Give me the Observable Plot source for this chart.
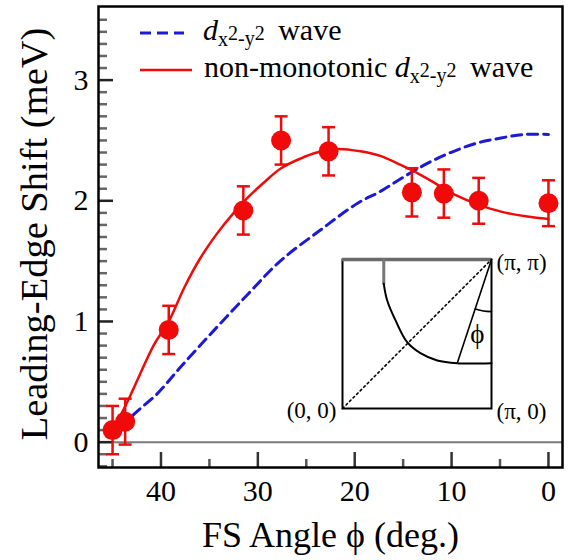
<!DOCTYPE html>
<html>
<head>
<meta charset="utf-8">
<script src="https://cdn.jsdelivr.net/npm/d3@7"></script>
<script src="https://cdn.jsdelivr.net/npm/@observablehq/plot@0.6"></script>
<style>
  body { margin: 0; background: white; }
  #chart { position: relative; width: 572px; height: 560px; }
  #inset { position: absolute; left: 280px; top: 245px; }
</style>
</head>
<body>
<div id="chart"><div id="inset"></div></div>
<script>
// Measured leading-edge shift along the Fermi surface
const phi   = [45.0, 43.7, 39.2, 31.5, 27.6, 22.7, 14.1, 10.8, 7.2, 0.0];
const shift = [0.10, 0.17, 0.93, 1.92, 2.50, 2.41, 2.07, 2.06, 2.00, 1.98];
const err   = [0.20, 0.19, 0.20, 0.20, 0.20, 0.20, 0.20, 0.20, 0.19, 0.19];

// Simple d(x2-y2) wave
const dPhi = [44.0, 42.8, 40.4, 38.0, 34.6, 31.1, 27.7, 23.5, 19.7, 17.3, 14.9, 12.5, 10.1, 7.3, 4.9, 2.5, 0.0];
const dVal = [0.12, 0.23, 0.40, 0.62, 0.92, 1.22, 1.50, 1.76, 1.98, 2.08, 2.20, 2.31, 2.40, 2.48, 2.52, 2.55, 2.55];

// Non-monotonic d(x2-y2) wave
const nmPhi = [44.6, 43.8, 42.8, 40.7, 39.2, 37.6, 35.9, 34.2, 32.6, 31.0, 29.4, 27.6, 25.6, 23.9, 21.8, 19.4, 17.3, 15.6, 14.0, 11.8, 9.4, 7.3, 4.9, 2.2, 0.0];
const nmVal = [0.16, 0.28, 0.45, 0.81, 1.00, 1.28, 1.53, 1.73, 1.89, 2.03, 2.15, 2.27, 2.35, 2.40, 2.43, 2.41, 2.37, 2.31, 2.25, 2.15, 2.04, 1.97, 1.91, 1.87, 1.85];

// Axis ticks
const xMajor = [0, 10, 20, 30, 40];
const xMinor = [5, 15, 25, 35, 45];
const yMajor = [0, 1, 2, 3];
const yMinor = d3.range(-2, 36).map(i => i / 10).filter(v => !yMajor.includes(v));

// Inset: Brillouin-zone quadrant (units of pi)
const fsKx = [0.277, 0.300, 0.356, 0.434, 0.523, 0.636, 0.770, 1.000];
const fsKy = [0.837, 0.725, 0.591, 0.445, 0.371, 0.322, 0.304, 0.304];
const fsTopKx = [0.277, 0.277];
const fsTopKy = [1.000, 0.837];
const diagK = [0, 1];
const phiLineKx = [1.0, 0.770];
const phiLineKy = [1.0, 0.304];
const phiArcKx = [0.891, 0.946, 1.0];
const phiArcKy = [0.668, 0.654, 0.650];
const cornerLabels = ["(0, 0)", "(\u03c0, 0)", "(\u03c0, \u03c0)"];

const RED = "#f00a0a";
const BLUE = "#1a1ad8";
const SERIF = "'Liberation Serif', 'Times New Roman', serif";
const PHI = "\u03d5";

const points = phi.map((p, i) => ({phi: p, v: shift[i], lo: shift[i] - err[i], hi: shift[i] + err[i]}));
const dWave = dPhi.map((p, i) => ({phi: p, v: dVal[i]}));
const nmWave = nmPhi.map((p, i) => ({phi: p, v: nmVal[i]}));

const capSymbol = {draw(context) { context.moveTo(-6.5, 0); context.lineTo(6.5, 0); }};

const W = 572, H = 560, mL = 98, mR = 10, mT = 6, mB = 93;
const frameW = W - mL - mR, frameH = H - mT - mB;

const plot = Plot.plot({
  width: W, height: H,
  marginLeft: mL, marginRight: mR, marginTop: mT, marginBottom: mB,
  style: {fontFamily: SERIF, fontSize: "30px", color: "black", background: "white", overflow: "visible"},
  x: {domain: [46.45, -1.45], label: null},
  y: {domain: [-0.21, 3.61], label: null},
  marks: [
    Plot.ruleY([0], {stroke: "#7a7a7a", strokeWidth: 2}),
    Plot.tickY(yMinor, {insetRight: frameW - 9, stroke: "#666", strokeWidth: 2.5}),
    Plot.tickY(yMajor, {insetRight: frameW - 15, stroke: "#222", strokeWidth: 2.5}),
    Plot.tickX(xMinor, {insetTop: frameH - 8, stroke: "#555", strokeWidth: 2.5}),
    Plot.tickX(xMajor, {insetTop: frameH - 15, stroke: "#333", strokeWidth: 2.5}),
    Plot.axisX(xMajor, {tickSize: 0, tickPadding: 12, fontSize: 30, tickFormat: d => String(d), label: null}),
    Plot.axisY(yMajor, {tickSize: 0, tickPadding: 10, fontSize: 30, tickFormat: d => String(d), label: null}),
    Plot.line(dWave, {x: "phi", y: "v", curve: "catmull-rom", stroke: BLUE, strokeWidth: 3, strokeDasharray: "10,6"}),
    Plot.line(nmWave, {x: "phi", y: "v", curve: "catmull-rom", stroke: RED, strokeWidth: 2.5}),
    Plot.ruleX(points, {x: "phi", y1: "lo", y2: "hi", stroke: RED, strokeWidth: 2.5}),
    Plot.dot(points, {x: "phi", y: "hi", symbol: capSymbol, stroke: RED, strokeWidth: 2.5}),
    Plot.dot(points, {x: "phi", y: "lo", symbol: capSymbol, stroke: RED, strokeWidth: 2.5}),
    Plot.dot(points, {x: "phi", y: "v", r: 10, fill: RED, stroke: null}),
    Plot.frame({stroke: "black", strokeWidth: 2.5}),
    Plot.text([`FS Angle ${PHI} (deg.)`], {frameAnchor: "bottom", textAnchor: "middle", lineAnchor: "middle", dy: 68, fontSize: 36}),
    Plot.text(["Leading-Edge Shift (meV)"], {frameAnchor: "left", textAnchor: "middle", lineAnchor: "middle", dx: -64, dy: -3, rotate: -90, fontSize: 38.5})
  ]
});

// Legend
const svg = d3.select(plot);
const leg = svg.append("g").attr("font-family", SERIF).attr("font-size", 30)
  .attr("fill", "black").attr("text-anchor", "start");
leg.append("line").attr("x1", 140).attr("x2", 184).attr("y1", 33).attr("y2", 33)
  .attr("stroke", BLUE).attr("stroke-width", 3).attr("stroke-dasharray", "11,6");
leg.append("line").attr("x1", 140).attr("x2", 192).attr("y1", 70).attr("y2", 70)
  .attr("stroke", RED).attr("stroke-width", 2.5);

function dLabel(g, x, y, prefix) {
  const t = g.append("text").attr("x", x).attr("y", y);
  if (prefix) t.append("tspan").text(prefix);
  t.append("tspan").attr("font-style", "italic").text("d");
  t.append("tspan").attr("font-size", 20).attr("dy", 6).text("x");
  t.append("tspan").attr("font-size", 20).attr("dy", -6).text("2");
  t.append("tspan").attr("font-size", 20).attr("dy", 5).text("-y");
  t.append("tspan").attr("font-size", 20).attr("dy", -5).text("2");
  t.append("tspan").attr("dx", 6).text(" wave");
}
dLabel(leg, 203, 40, null);
dLabel(leg, 204, 77, "non-monotonic ");

document.getElementById("chart").prepend(plot);

// Inset diagram of the Fermi surface
const fsArc = fsKx.map((k, i) => ({kx: k, ky: fsKy[i]}));
const fsTop = fsTopKx.map((k, i) => ({kx: k, ky: fsTopKy[i]}));
const diag = diagK.map(k => ({kx: k, ky: k}));
const phiLine = phiLineKx.map((k, i) => ({kx: k, ky: phiLineKy[i]}));
const phiArc = phiArcKx.map((k, i) => ({kx: k, ky: phiArcKy[i]}));
const corners = [
  {kx: 0, ky: 0, label: cornerLabels[0]},
  {kx: 1, ky: 0, label: cornerLabels[1]},
  {kx: 1, ky: 1, label: cornerLabels[2]}
];

const inset = Plot.plot({
  width: 285, height: 180,
  marginLeft: 62, marginRight: 74, marginTop: 14, marginBottom: 17,
  style: {fontFamily: SERIF, fontSize: "23px", color: "black", background: "transparent", overflow: "visible"},
  x: {domain: [0, 1], axis: null},
  y: {domain: [0, 1], axis: null},
  marks: [
    Plot.frame({stroke: "black", strokeWidth: 2}),
    Plot.ruleY([1], {stroke: "#6a6a6a", strokeWidth: 3.5}),
    Plot.line(diag, {x: "kx", y: "ky", stroke: "black", strokeWidth: 1.6, strokeDasharray: "2,3"}),
    Plot.line(fsTop, {x: "kx", y: "ky", stroke: "#777", strokeWidth: 3}),
    Plot.line(fsArc, {x: "kx", y: "ky", curve: "catmull-rom", stroke: "black", strokeWidth: 2}),
    Plot.line(phiLine, {x: "kx", y: "ky", stroke: "black", strokeWidth: 1.6}),
    Plot.line(phiArc, {x: "kx", y: "ky", curve: "natural", stroke: "black", strokeWidth: 1.6}),
    Plot.text([PHI], {x: [0.905], y: [0.50], fontSize: 27}),
    Plot.text(corners.slice(0, 1), {x: "kx", y: "ky", text: "label", textAnchor: "end", dx: -6, dy: 2}),
    Plot.text(corners.slice(1), {x: "kx", y: "ky", text: "label", textAnchor: "start", dx: 5, dy: 3})
  ]
});
document.getElementById("inset").appendChild(inset);
</script>
</body>
</html>
